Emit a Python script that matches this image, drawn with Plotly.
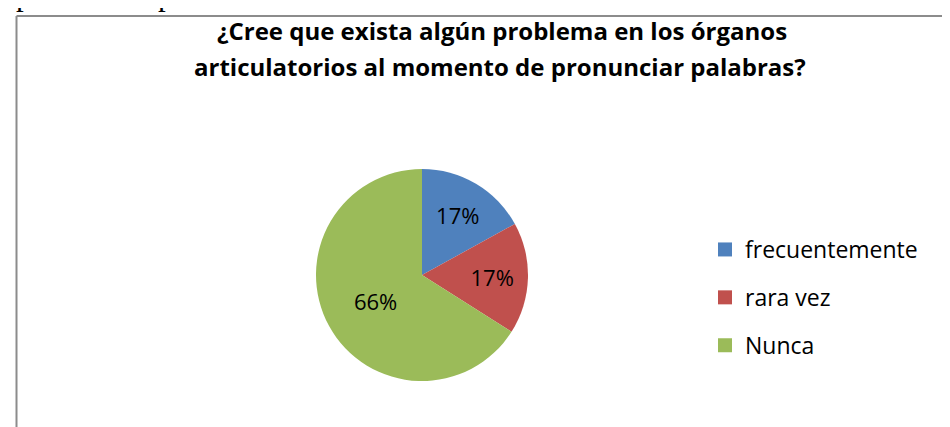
import plotly.graph_objects as go

categories = ["frecuentemente", "rara vez", "Nunca"]
values = [17, 17, 66]
colors = ["#4F81BD", "#C0504D", "#9BBB59"]
title_lines = ["¿Cree que exista algún problema en los órganos",
               "articulatorios al momento de pronunciar palabras?"]
above_text = "pronunciar palabras?"

W, H = 950, 427
FONT = "Open Sans"

fig = go.Figure()

cx, cy, r = 414, 267, 106
fig.add_trace(go.Pie(
    labels=categories, values=values, sort=False, direction="clockwise",
    rotation=0,
    marker=dict(colors=colors, line=dict(width=0)),
    texttemplate="%{percent:.0%}", textposition="inside",
    insidetextorientation="horizontal",
    textfont=dict(family=FONT, size=22, color="black"),
    showlegend=False, hoverinfo="label+percent",
    domain=dict(x=[(cx - r) / W, (cx + r) / W], y=[(H - cy - r) / H, (H - cy + r) / H]),
))

for i, (lab, col) in enumerate(zip(categories, colors)):
    fig.add_trace(go.Scatter(
        x=[None], y=[None], mode="markers", name=lab, legendgroup=f"g{i}",
        marker=dict(symbol="square", size=14, color=col),
    ))

annotations = [
    dict(text="<b>" + line + "</b>", x=xc / W, y=1 - yc / H,
         xref="paper", yref="paper", xanchor="center", yanchor="middle",
         showarrow=False, font=dict(family=FONT, size=24, color="black"))
    for line, xc, yc in zip(title_lines, [494, 492], [23, 58])
]
annotations.append(
    dict(text=above_text, x=6 / W, y=1 - 6 / H, xref="paper", yref="paper",
         xanchor="left", yanchor="bottom", showarrow=False,
         font=dict(family="Liberation Serif", size=31, color="black")))

fig.update_layout(
    width=W, height=H,
    margin=dict(l=0, r=0, t=0, b=0),
    paper_bgcolor="white", plot_bgcolor="white",
    xaxis=dict(visible=False), yaxis=dict(visible=False),
    showlegend=True,
    legend=dict(x=697 / W, xanchor="left", y=(H - 220) / H, yanchor="top",
                font=dict(family=FONT, size=23, color="black"),
                tracegroupgap=15, itemclick=False, bgcolor="rgba(0,0,0,0)"),
    annotations=annotations,
    shapes=[
        dict(type="line", xref="paper", yref="paper", x0=8.5 / W, x1=1, y0=1 - 8 / H, y1=1 - 8 / H,
             line=dict(color="#8c8c8c", width=2)),
        dict(type="line", xref="paper", yref="paper", x0=8.5 / W, x1=8.5 / W, y0=0, y1=1 - 8 / H,
             line=dict(color="#8c8c8c", width=2)),
    ],
)

fig.write_html("out.html")
